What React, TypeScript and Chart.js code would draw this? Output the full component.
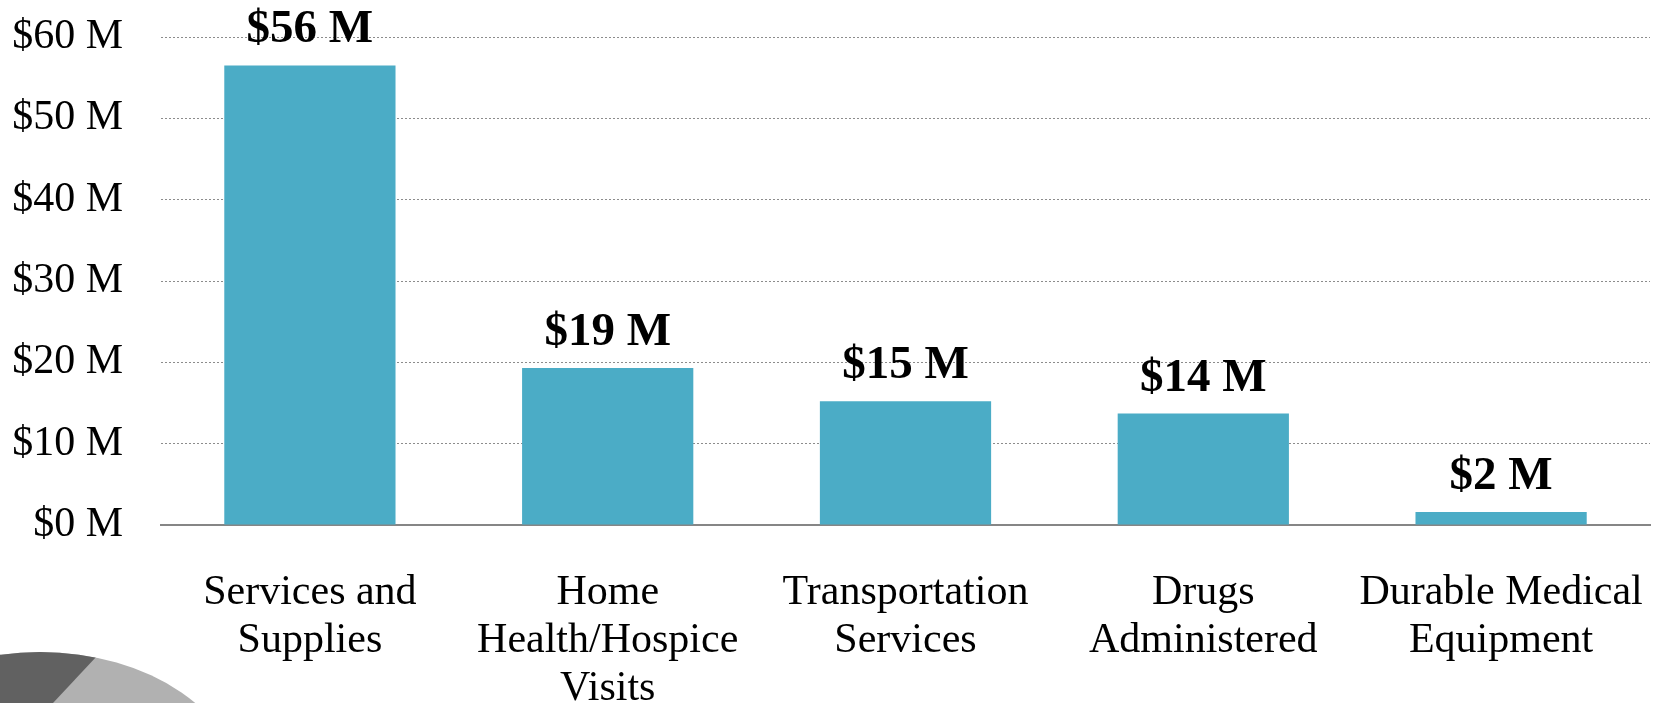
import React, { useEffect, useRef } from "react";
import { Chart, registerables } from "chart.js";

Chart.register(...registerables);

const categories: string[][] = [
  ["Services and", "Supplies"],
  ["Home", "Health/Hospice", "Visits"],
  ["Transportation", "Services"],
  ["Drugs", "Administered"],
  ["Durable Medical", "Equipment"],
];
const spendValues: number[] = [56.5, 19.3, 15.2, 13.7, 1.6];
const valueLabels: string[] = ["$56 M", "$19 M", "$15 M", "$14 M", "$2 M"];
const yTickValues: number[] = [0, 10, 20, 30, 40, 50, 60];

const FONT = "'Liberation Serif', 'Times New Roman', serif";

const valueLabelPlugin = {
  id: "valueLabels",
  afterDatasetsDraw(chart: any) {
    const ctx = chart.ctx;
    const meta = chart.getDatasetMeta(0);
    ctx.save();
    ctx.font = `bold 47px ${FONT}`;
    ctx.fillStyle = "#000";
    ctx.textAlign = "center";
    ctx.textBaseline = "alphabetic";
    meta.data.forEach((bar: any, i: number) => {
      ctx.fillText(valueLabels[i], bar.x, bar.y - 23);
    });
    ctx.restore();
  },
};

const decorationPlugin = {
  id: "decoration",
  beforeDraw(chart: any) {
    const ctx = chart.ctx;
    const h = chart.height;
    ctx.save();
    ctx.beginPath();
    ctx.ellipse(40, h + 87, 200, 138, 0, 0, Math.PI * 2);
    ctx.fillStyle = "#b1b1b1";
    ctx.fill();
    ctx.clip();
    ctx.beginPath();
    ctx.moveTo(-50, h - 100);
    ctx.lineTo(115, h - 100);
    ctx.lineTo(97, h - 47);
    ctx.lineTo(53, h);
    ctx.lineTo(-50, h + 50);
    ctx.closePath();
    ctx.fillStyle = "#616161";
    ctx.fill();
    ctx.restore();
  },
};

export default function App() {
  const ref = useRef<HTMLCanvasElement | null>(null);

  useEffect(() => {
    if (!ref.current) return;
    const chart = new Chart(ref.current, {
      type: "bar",
      data: {
        labels: categories,
        datasets: [
          {
            data: spendValues,
            backgroundColor: "#4BACC6",
            borderWidth: 0,
            categoryPercentage: 1,
            barPercentage: 0.575,
          },
        ],
      },
      options: {
        animation: false,
        responsive: false,
        maintainAspectRatio: false,
        layout: { padding: { left: 0, right: 13, top: 37, bottom: 0 } },
        plugins: {
          legend: { display: false },
          tooltip: { enabled: false },
          title: { display: false },
        },
        scales: {
          x: {
            grid: { display: false },
            border: { display: true, color: "#868686", width: 2 },
            ticks: {
              color: "#000",
              font: { family: FONT, size: 42, lineHeight: 1.14 },
              padding: 36,
              maxRotation: 0,
              autoSkip: false,
            },
            afterFit(scale: any) {
              scale.height = 178;
              scale.paddingLeft = 0;
              scale.paddingRight = 0;
            },
          },
          y: {
            min: 0,
            max: 60,
            afterBuildTicks(scale: any) {
              scale.ticks = yTickValues.map((v) => ({ value: v }));
            },
            grid: {
              color: "#8c8c8c",
              lineWidth: 1,
              drawTicks: false,
            },
            border: { display: false, dash: [2, 2] },
            ticks: {
              color: "#000",
              font: { family: FONT, size: 42 },
              padding: 38,
              callback: (v: any) => `$${v} M`,
            },
            afterFit(scale: any) {
              scale.width = 161;
              scale.paddingTop = 0;
              scale.paddingBottom = 0;
            },
          },
        },
      },
      plugins: [decorationPlugin, valueLabelPlugin],
    });
    return () => chart.destroy();
  }, []);

  return (
    <div style={{ position: "fixed", left: 0, top: 0, width: 1663, height: 703, background: "#fff" }}>
      <canvas ref={ref} width={1663} height={703} style={{ display: "block" }} />
    </div>
  );
}
